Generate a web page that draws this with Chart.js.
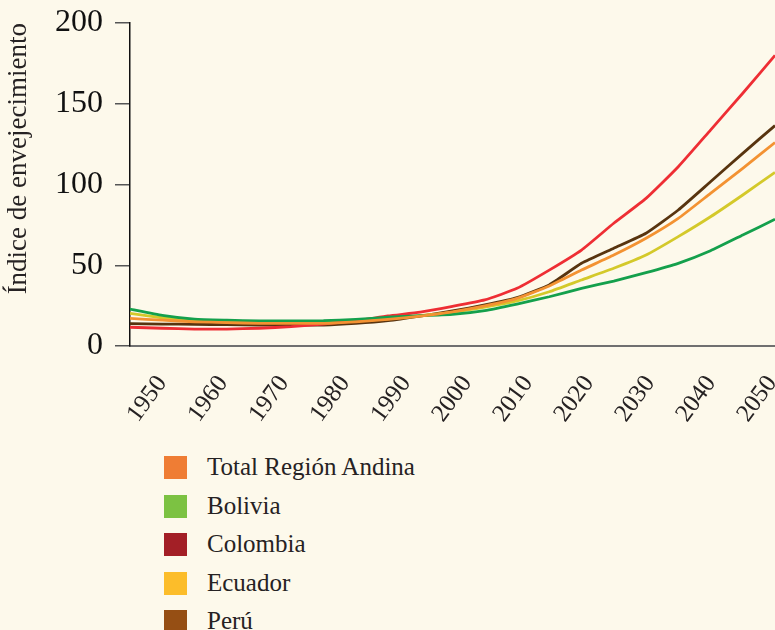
<!DOCTYPE html>
<html>
<head>
<meta charset="utf-8">
<script src="https://cdn.jsdelivr.net/npm/chart.js@4"></script>
<style>
    html, body { margin: 0; padding: 0; background: #fdf9eb; }
    #wrap { position: relative; width: 775px; height: 440px; }
    #legend { position: absolute; left: 164px; top: 456px; margin: 0; padding: 0; list-style: none;
              font-family: "Liberation Serif", serif; font-size: 25px; color: #262223; }
    #legend li { height: 38.5px; position: relative; }
    #legend span.box { position: absolute; left: 0; top: 0; width: 23px; height: 23px; }
    #legend span.txt { position: absolute; left: 43px; top: -2px; line-height: 26px; white-space: nowrap; }
</style>
</head>
<body>
<div id="wrap"><canvas id="chart" width="775" height="440"></canvas></div>
<ul id="legend"></ul>
<script>
// Years of the data points (every 5 years)
const years = [1950, 1955, 1960, 1965, 1970, 1975, 1980, 1985, 1990, 1995, 2000,
               2005, 2010, 2015, 2020, 2025, 2030, 2035, 2040, 2045, 2050];

// Tick labels under the axis (spaced a bit tighter than the data in the original)
const tickYears = [1950, 1960, 1970, 1980, 1990, 2000, 2010, 2020, 2030, 2040, 2050];
const tickLabels = ['1950', '1960', '1970', '1980', '1990', '2000', '2010', '2020', '2030', '2040', '2050'];

const seriesNames = ['Total Región Andina', 'Bolivia', 'Colombia', 'Ecuador', 'Perú'];

// Índice de envejecimiento
const totalRegion = [17.1, 16, 15, 14.5, 14, 14, 14, 15, 16.5, 18.5, 21.2,
                     24.8, 29.5, 37.2, 47, 56.3, 66.7, 79, 94.5, 110, 126];
const bolivia = [22.9, 19, 16.7, 16, 15.5, 15.5, 15.7, 16.5, 17.8, 18.8, 19.6,
                 21.9, 26, 30.5, 35.7, 40.2, 45.4, 51.2, 59, 68.7, 78.5];
const colombia = [11.6, 11, 10.5, 10.5, 11, 12, 13.6, 15.5, 18.6, 21, 24.5,
                  28.5, 35.7, 47, 59.4, 76, 91.4, 111, 133.7, 156.5, 180];
const ecuador = [20.2, 17.5, 15.5, 15, 14.5, 14.5, 14.7, 15.5, 16.8, 18.8, 20.8,
                 24, 27.9, 33.6, 40.9, 48.1, 56.3, 67.7, 80, 93.5, 107.5];
const peru = [13.8, 13.6, 13.4, 13.2, 13, 13, 13, 14, 15.7, 18.5, 21.7,
              25.4, 29.9, 37.8, 51.2, 60.5, 69.8, 84.2, 101.7, 119.3, 136.5];

// line colours differ from the legend swatches in the original
const lineColors = ['#f39232', '#14a04c', '#ee2e34', '#d4c92a', '#58340f'];
const swatchColors = ['#ef7d34', '#7cc242', '#a31f26', '#fcbd2a', '#964f14'];

const allSeries = [totalRegion, bolivia, colombia, ecuador, peru];

document.addEventListener('DOMContentLoaded', () => {
    buildLegend();
    renderChart();
});

function buildLegend() {
    const list = document.getElementById('legend');
    seriesNames.forEach((name, i) => {
        const li = document.createElement('li');
        li.innerHTML = `<span class="box" style="background:${swatchColors[i]}"></span><span class="txt">${name}</span>`;
        list.appendChild(li);
    });
}

function renderChart() {
    const ctx = document.getElementById('chart').getContext('2d');
    const serif = '"Liberation Serif", serif';

    new Chart(ctx, {
        type: 'line',
        data: {
            labels: years,
            datasets: allSeries.map((vals, i) => ({
                label: seriesNames[i],
                data: vals,
                xAxisID: 'x',
                borderColor: lineColors[i],
                borderWidth: 2.8,
                pointRadius: 0,
                tension: 0.15,
                fill: false
            }))
        },
        options: {
            responsive: false,
            animation: false,
            layout: { padding: { top: 23, left: 0, right: 0, bottom: 0 } },
            plugins: {
                legend: { display: false },
                tooltip: { enabled: false }
            },
            scales: {
                x: {
                    type: 'linear',
                    min: 1950,
                    max: 2050,
                    afterFit: (scale) => {
                        scale.height = 2;
                        scale.paddingLeft = 0;
                        scale.paddingRight = 0;
                    },
                    border: { display: true, color: '#707070', width: 2 },
                    grid: { display: true, drawOnChartArea: false, drawTicks: false },
                    ticks: { display: false }
                },
                // label-only axis: 10 years = 61px like the original
                xLabels: {
                    type: 'linear',
                    position: 'bottom',
                    min: 1950,
                    max: 1950 + 645 / 6.1,
                    afterBuildTicks: (scale) => {
                        scale.ticks = tickYears.map(v => ({ value: v }));
                    },
                    afterFit: (scale) => {
                        scale.height = 92;
                        scale.paddingLeft = 0;
                        scale.paddingRight = 0;
                    },
                    border: { display: false },
                    grid: { display: false },
                    ticks: {
                        autoSkip: false,
                        minRotation: 54,
                        maxRotation: 54,
                        labelOffset: 32,
                        padding: 14,
                        color: '#262223',
                        font: { family: serif, size: 25 },
                        callback: (v) => tickLabels[tickYears.indexOf(v)]
                    }
                },
                y: {
                    min: 0,
                    max: 200,
                    afterFit: (scale) => {
                        scale.width = 130;
                        scale.paddingTop = 0;
                        scale.paddingBottom = 0;
                    },
                    border: { display: true, color: '#111', width: 1.5 },
                    grid: { display: true, drawOnChartArea: false, tickLength: 15, color: '#555', lineWidth: 1.5 },
                    ticks: {
                        stepSize: 50,
                        padding: 12,
                        color: '#111',
                        font: { family: serif, size: 32 }
                    },
                    title: {
                        display: true,
                        text: 'Índice de envejecimiento',
                        align: 'end',
                        color: '#262223',
                        padding: { top: 3, bottom: 0 },
                        font: { family: serif, size: 27 }
                    }
                }
            }
        }
    });
}
</script>
</body>
</html>
